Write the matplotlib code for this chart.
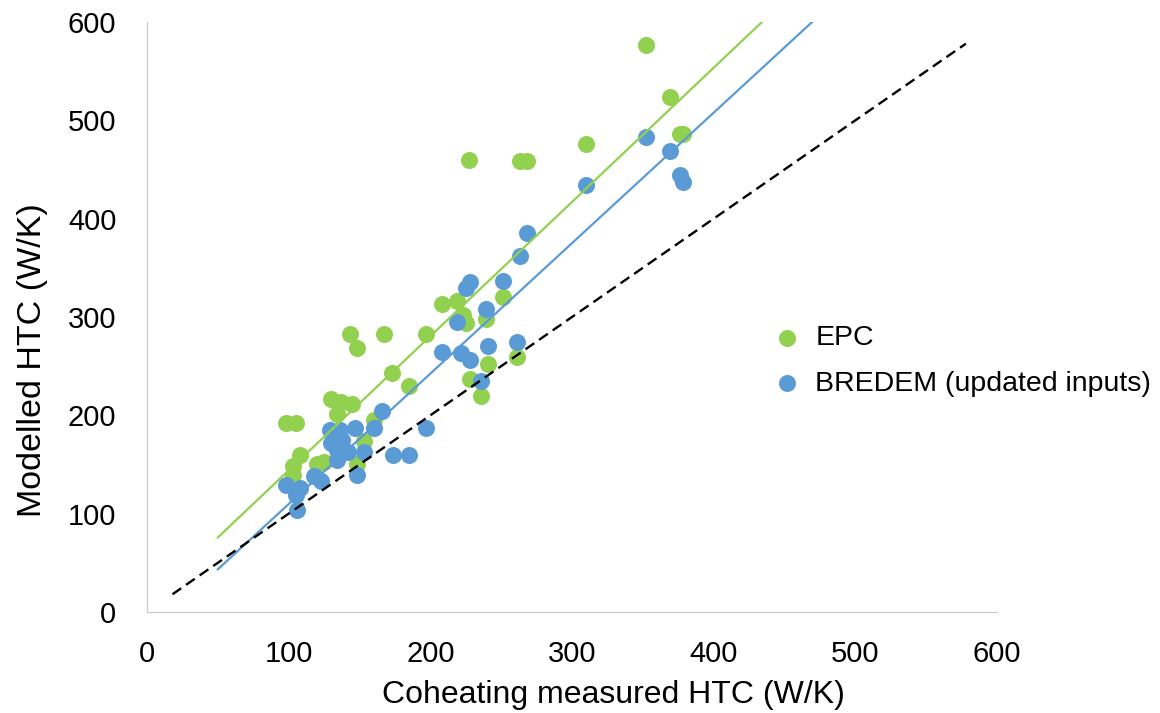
import numpy as np
import matplotlib.pyplot as plt

plt.rcParams['font.family'] = ['Liberation Sans', 'DejaVu Sans']

# EPC modelled HTC vs coheating measured HTC (W/K)
epc_x = [352, 369, 376, 378, 310, 227, 263, 268,
         208, 219, 223, 225, 251, 239, 197, 241, 228, 236, 261, 185,
         143, 167, 148, 173, 98, 105, 130, 137, 145, 134, 160, 153,
         108, 103, 103, 120, 125, 148]
epc_y = [577, 524, 486, 486, 476, 460, 459, 459,
         313, 316, 302, 294, 320, 298, 283, 252, 237, 220, 259, 230,
         283, 283, 268, 243, 192, 192, 217, 214, 212, 201, 195, 174,
         160, 148, 139, 150, 153, 151]

# BREDEM (updated inputs)
bredem_x = [352, 369, 376, 378, 310, 268, 263, 251, 228, 225, 239, 219,
            208, 222, 228, 241, 261, 236, 197, 174, 185,
            166, 160, 147, 136, 129, 130, 138, 134, 142, 153, 134,
            118, 123, 148, 98, 108, 105, 106]
bredem_y = [483, 469, 444, 437, 434, 385, 362, 337, 336, 330, 308, 295,
            264, 263, 256, 271, 275, 235, 187, 160, 160,
            204, 187, 187, 185, 185, 172, 175, 165, 163, 163, 155,
            138, 133, 139, 129, 126, 119, 104]

# linear trendlines as shown in the chart (slope, intercept)
trend_epc = (1.365, 7.5)
trend_bredem = (1.327, -23.0)

green = '#92D050'
blue = '#5B9BD5'

fig = plt.figure(figsize=(11.6, 7.13), dpi=100)
ax = fig.add_axes([0.1267, 0.1417, 0.7328, 0.8274])

ax.scatter(epc_x, epc_y, s=150, color=green, label='EPC', zorder=2, linewidths=0)
ax.scatter(bredem_x, bredem_y, s=150, color=blue, label='BREDEM (updated inputs)',
           zorder=3, linewidths=0)

xe = np.array([50, (600 - trend_epc[1]) / trend_epc[0]])
xb = np.array([50, (600 - trend_bredem[1]) / trend_bredem[0]])
ax.plot(xe, np.polyval(trend_epc, xe), color=green, lw=1.6, zorder=4)
ax.plot(xb, np.polyval(trend_bredem, xb), color=blue, lw=1.6, zorder=4)

# 1:1 line
ax.plot([18, 578], [18, 578], color='black', lw=1.7, ls=(0, (4.5, 2.5)), zorder=4)

ax.set_xlim(0, 600)
ax.set_ylim(0, 600)
ax.set_xticks(range(0, 601, 100))
ax.set_yticks(range(0, 601, 100))
ax.tick_params(length=0, labelsize=21)
ax.tick_params(axis='y', pad=22)
ax.tick_params(axis='x', pad=20)
for s in ['top', 'right']:
    ax.spines[s].set_visible(False)
for s in ['left', 'bottom']:
    ax.spines[s].set_color('#C8C8C8')

ax.set_xlabel('Coheating measured HTC (W/K)', fontsize=23, labelpad=10)
ax.set_ylabel('Modelled HTC (W/K)', fontsize=24.5, labelpad=12)
ax.xaxis.set_label_coords(0.549, -0.115)
ax.yaxis.set_label_coords(-0.117, 0.427)

ax.legend(loc='center left', bbox_to_anchor=(0.6664, 0.4937), bbox_transform=fig.transFigure,
          frameon=False, fontsize=20.5, handlelength=1.0, handletextpad=0.48,
          labelspacing=0.7, borderpad=0, borderaxespad=0)

fig.savefig('out.png', dpi=100)
